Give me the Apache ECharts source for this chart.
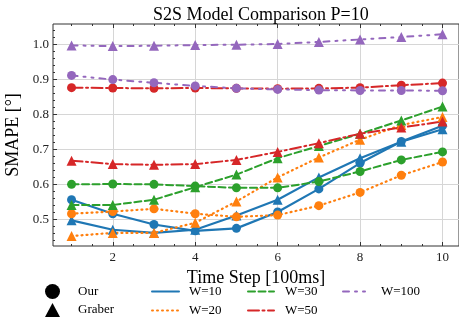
<!DOCTYPE html>
<html>
<head>
<meta charset="utf-8">
<script src="https://cdn.jsdelivr.net/npm/echarts@6/dist/echarts.min.js"></script>
<style>
  html, body { margin: 0; padding: 0; background: #fff; }
  #chart { width: 459px; height: 325px; }
</style>
</head>
<body>
<div id="chart"></div>
<script>
// time steps (x)
const timeSteps = [1, 2, 3, 4, 5, 6, 7, 8, 9, 10];

// SMAPE values
const ourW10 = [0.556, 0.516, 0.485, 0.467, 0.474, 0.521, 0.587, 0.661, 0.723, 0.768];
const graberW10 = [0.497, 0.470, 0.461, 0.470, 0.511, 0.556, 0.620, 0.675, 0.722, 0.758];
const ourW20 = [0.516, 0.522, 0.530, 0.516, 0.507, 0.512, 0.539, 0.577, 0.626, 0.664];
const graberW20 = [0.452, 0.461, 0.461, 0.490, 0.551, 0.620, 0.677, 0.728, 0.770, 0.793];
const ourW30 = [0.600, 0.601, 0.600, 0.595, 0.590, 0.590, 0.608, 0.637, 0.670, 0.693];
const graberW30 = [0.541, 0.541, 0.556, 0.592, 0.628, 0.675, 0.710, 0.745, 0.783, 0.823];
const ourW50 = [0.877, 0.876, 0.875, 0.876, 0.875, 0.874, 0.875, 0.877, 0.884, 0.890];
const graberW50 = [0.668, 0.658, 0.656, 0.658, 0.670, 0.693, 0.718, 0.745, 0.763, 0.780];
const ourW100 = [0.912, 0.900, 0.891, 0.882, 0.875, 0.872, 0.870, 0.869, 0.869, 0.868];
const graberW100 = [0.998, 0.996, 0.997, 0.999, 1.000, 1.002, 1.008, 1.015, 1.022, 1.030];

// tick positions
const xMajor = [2, 4, 6, 8, 10];
const xMinor = [1, 1.5, 2.5, 3, 3.5, 4.5, 5, 5.5, 6.5, 7, 7.5, 8.5, 9, 9.5];
const yMajor = [0.5, 0.6, 0.7, 0.8, 0.9, 1.0];
const yMinor = [];
for (let v = 44; v <= 104; v += 2) if (v % 10 !== 0) yMinor.push(v / 100);

const FONT = "Liberation Serif";
const X_MIN = 0.55, X_MAX = 10.4;
const Y_MIN = 0.4235, Y_MAX = 1.0593;

const blue = "#1f77b4", orange = "#ff7f0e", green = "#2ca02c", red = "#d62728", purple = "#9467bd";
const styles = {
  10: { color: blue, type: "solid", width: 2.2 },
  20: { color: orange, type: [1, 4], width: 2.2 },
  30: { color: green, type: [7, 3.5], width: 2 },
  50: { color: red, type: [11, 3.5, 2, 3.5], width: 2 },
  100: { color: purple, type: [6, 6, 2, 6, 2, 6], width: 2 },
};

const pairs = arr => timeSteps.map((t, i) => [t, arr[i]]);

function dataSeries(name, arr, w, symbol) {
  const s = styles[w];
  return {
    name: name,
    type: "line",
    data: pairs(arr),
    symbol: symbol,
    symbolSize: symbol === "circle" ? 9 : 10,
    color: s.color,
    itemStyle: { color: s.color },
    lineStyle: { color: s.color, type: s.type, width: s.width, cap: "round" },
    z: 3,
  };
}

function legendLine(w) {
  const s = styles[w];
  return {
    name: "W=" + w,
    type: "line",
    data: [],
    symbol: "none",
    color: s.color,
    lineStyle: { color: s.color, type: s.type, width: 1.5, cap: "round" },
  };
}

const series = [
  dataSeries("Our W=10", ourW10, 10, "circle"),
  dataSeries("Graber W=10", graberW10, 10, "triangle"),
  dataSeries("Our W=20", ourW20, 20, "circle"),
  dataSeries("Graber W=20", graberW20, 20, "triangle"),
  dataSeries("Our W=30", ourW30, 30, "circle"),
  dataSeries("Graber W=30", graberW30, 30, "triangle"),
  dataSeries("Our W=50", ourW50, 50, "circle"),
  dataSeries("Graber W=50", graberW50, 50, "triangle"),
  dataSeries("Our W=100", ourW100, 100, "circle"),
  dataSeries("Graber W=100", graberW100, 100, "triangle"),
  { name: "Our", type: "line", data: [], symbol: "circle", color: "#000" },
  { name: "Graber", type: "line", data: [], symbol: "triangle", color: "#000" },
  legendLine(10), legendLine(20), legendLine(30), legendLine(50), legendLine(100),
];

// one legend per entry so each sits where the reference has it
function legendItem(name, left, top, width, height, gap, icon) {
  const item = icon ? { name: name, icon: icon } : { name: name };
  return {
    left: left,
    top: top,
    padding: 0,
    itemWidth: width,
    itemHeight: height,
    selectedMode: false,
    itemStyle: icon ? {} : { color: "rgba(0,0,0,0)", borderColor: "rgba(0,0,0,0)", borderWidth: 0 },
    textStyle: { fontFamily: FONT, fontSize: 13, color: "#000", padding: [0, 0, 0, gap] },
    data: [item],
  };
}

function tickAxis(kind, pos, values, len, extra) {
  return Object.assign({
    type: "value",
    position: pos,
    min: kind === "x" ? X_MIN : Y_MIN,
    max: kind === "x" ? X_MAX : Y_MAX,
    axisLine: { show: false },
    axisTick: { show: true, inside: true, length: len, customValues: values, lineStyle: { color: "#333", width: 1 } },
    axisLabel: { show: false },
    splitLine: { show: false },
  }, extra || {});
}

const chart = echarts.init(document.getElementById("chart"));
chart.setOption({
  animation: false,
  backgroundColor: "#fff",
  title: {
    text: "S2S Model Comparison P=10",
    left: 148,
    top: 1,
    textStyle: { fontFamily: FONT, fontSize: 18, fontWeight: "normal", color: "#000" },
  },
  grid: {
    left: 53, right: 0, top: 24, bottom: 79,
    containLabel: false,
    outerBoundsMode: "none",
    show: true, borderColor: "#333", borderWidth: 1, backgroundColor: "transparent",
  },
  legend: [
    legendItem("Our", 45, 284, 15, 15, 13, "circle"),
    legendItem("Graber", 45, 303, 15, 14, 13, "triangle"),
    legendItem("W=10", 151, 285, 27, 14, 5),
    legendItem("W=20", 151, 304, 27, 14, 5),
    legendItem("W=30", 247, 285, 26, 14, 6),
    legendItem("W=50", 247, 304, 26, 14, 6),
    legendItem("W=100", 342, 285, 24, 14, 9),
  ],
  xAxis: [
    tickAxis("x", "bottom", xMajor, 4, {
      name: "Time Step [100ms]",
      nameLocation: "middle",
      nameGap: 15,
      nameTextStyle: { fontFamily: FONT, fontSize: 18, color: "#000" },
      axisLabel: { show: true, customValues: xMajor, margin: 5, fontFamily: FONT, fontSize: 13, color: "#222" },
      splitLine: { show: true, lineStyle: { color: "#d6d6d6", width: 1 } },
    }),
    tickAxis("x", "bottom", xMinor, 2),
    tickAxis("x", "top", xMajor, 4),
    tickAxis("x", "top", xMinor, 2),
  ],
  yAxis: [
    tickAxis("y", "left", yMajor, 4, {
      name: "SMAPE [°]",
      nameLocation: "middle",
      nameGap: 21,
      nameTextStyle: { fontFamily: FONT, fontSize: 18, color: "#000" },
      axisLabel: {
        show: true, customValues: yMajor, margin: 4, fontFamily: FONT, fontSize: 13, color: "#222",
        formatter: v => v.toFixed(1),
      },
      splitLine: { show: true, lineStyle: { color: "#d6d6d6", width: 1 } },
    }),
    tickAxis("y", "left", yMinor, 2),
  ],
  series: series,
});
</script>
</body>
</html>
